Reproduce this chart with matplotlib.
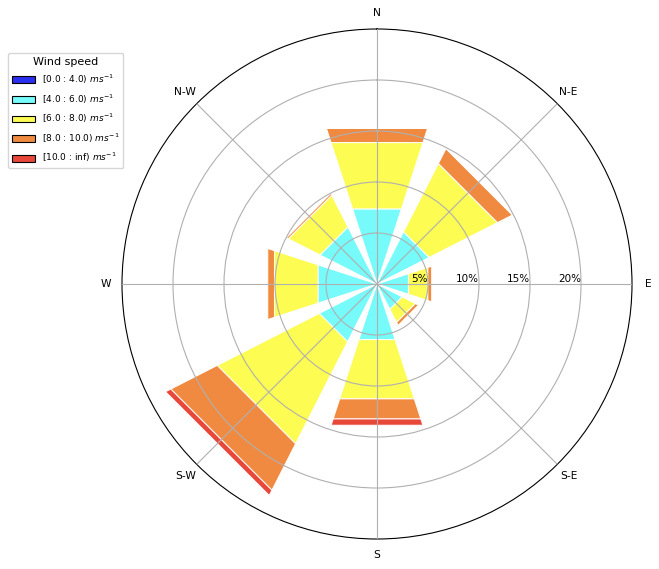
import numpy as np
import matplotlib
matplotlib.use("Agg")
import matplotlib.pyplot as plt
from matplotlib.patches import Rectangle, Patch

directions = ["N", "N-E", "E", "S-E", "S", "S-W", "W", "N-W"]
bin_labels = [r"[0.0 : 4.0) $ms^{-1}$", r"[4.0 : 6.0) $ms^{-1}$", r"[6.0 : 8.0) $ms^{-1}$",
              r"[8.0 : 10.0) $ms^{-1}$", r"[10.0 : inf) $ms^{-1}$"]
speed_0_4 = [0, 0, 0, 0, 0, 0, 0, 0]
speed_4_6 = [7.74, 5.74, 3.24, 2.78, 5.73, 6.35, 6.08, 6.27]
speed_6_8 = [6.84, 7.52, 2.00, 1.45, 6.11, 11.23, 4.49, 3.50]
speed_8_10 = [1.45, 1.63, 0.40, 0.33, 2.07, 5.11, 0.69, 0.2]
speed_10_inf = [0, 0, 0, 0, 0.65, 0.58, 0, 0]
radial_ticks = [5, 10, 15, 20]
radial_tick_labels = ["5%", "10%", "15%", "20%"]

colors = ["#2b2ff0", "#76fafa", "#fcfc52", "#f08a40", "#e8483a"]

table = np.array([speed_0_4, speed_4_6, speed_6_8, speed_8_10, speed_10_inf])

fig = plt.figure(figsize=(6.59, 5.69), dpi=100)
ax = fig.add_axes([0.18513, 0.05272, 0.77390, 0.89631], projection="polar")
ax.set_theta_zero_location("N")
ax.set_theta_direction(-1)

nsector = len(directions)
dtheta = 2 * np.pi / nsector
opening = 0.8 * dtheta
angles = np.arange(nsector) * dtheta

for j in range(nsector):
    offset = 0.0
    for i in range(table.shape[0]):
        val = table[i, j]
        if val > 0:
            p = Rectangle((angles[j] - opening / 2, offset), opening, val,
                          facecolor=colors[i], edgecolor="white", linewidth=0.72,
                          zorder=1)
            ax.add_patch(p)
        offset += val

ax.set_ylim(0, 25)
ax.set_xticks(angles)
ax.set_xticklabels(directions, fontsize=7.7)
ax.set_yticks(radial_ticks)
ax.set_yticklabels([])
for r, lab in zip(radial_ticks, radial_tick_labels):
    ax.text(np.pi / 2, r, lab, ha="right", va="bottom", fontsize=7.5, zorder=5)
ax.grid(True, color="#b0b0b0", linewidth=0.8)
ax.set_axisbelow(False)
ax.tick_params(axis="x", pad=1)

handles = [Patch(facecolor=c, edgecolor="black", linewidth=0.8) for c in colors]
leg = fig.legend(handles, bin_labels, title="Wind speed", loc="upper left",
                 bbox_to_anchor=(0.012, 0.907), fontsize=6.5, title_fontsize=8,
                 handlelength=2.6, handleheight=0.8, labelspacing=0.68,
                 borderaxespad=0, frameon=True)

fig.savefig("out.png", dpi=100, facecolor="white")
